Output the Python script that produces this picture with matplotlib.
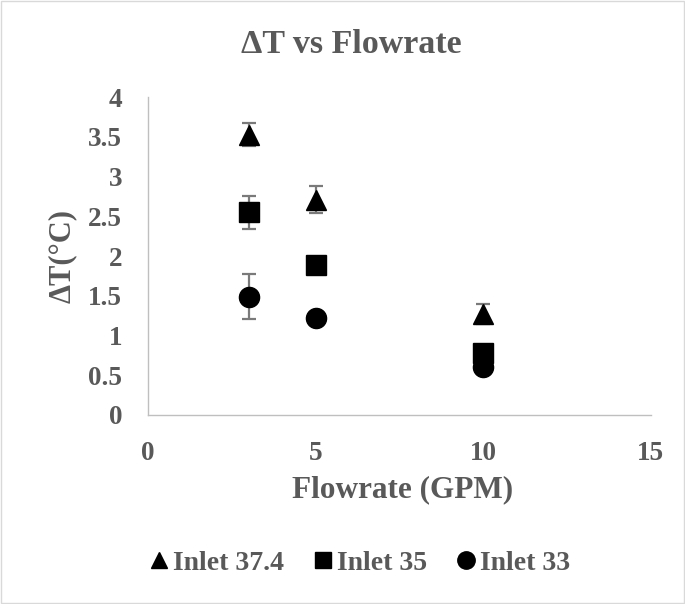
import matplotlib
matplotlib.use("Agg")
import matplotlib.pyplot as plt
from matplotlib.lines import Line2D
from matplotlib.patches import Rectangle

# Flowrate (GPM) and temperature rise for each inlet temperature
flowrate = [3, 5, 10]
series_names = ["Inlet 37.4", "Inlet 35", "Inlet 33"]
dt_374 = [3.53, 2.71, 1.27]
dt_35 = [2.55, 1.89, 0.78]
dt_33 = [1.49, 1.22, 0.60]
err_374 = [0.15, 0.17, 0.13]
err_35 = [0.21, 0.03, 0.03]
err_33 = [0.28, 0.04, 0.03]

x_ticks = [0, 5, 10, 15]
y_ticks = [0, 0.5, 1, 1.5, 2, 2.5, 3, 3.5, 4]

plt.rcParams["font.family"] = ["Liberation Serif", "DejaVu Serif"]
plt.rcParams["font.weight"] = "bold"
text_gray = "#595959"

fig = plt.figure(figsize=(6.85, 6.04), dpi=100)
ax = fig.add_axes([0.216, 0.313, 0.734, 0.526])

markers = ["^", "s", "o"]
sizes = [14.5, 14, 14.5]
for vals, errs, m, ms, name in zip([dt_374, dt_35, dt_33],
                                   [err_374, err_35, err_33],
                                   markers, sizes, series_names):
    ax.errorbar(flowrate, vals, yerr=errs, fmt=m, color="black", ms=ms,
                ecolor="#7a7a7a", elinewidth=1.6, capsize=4.7, capthick=1.6,
                label=name, zorder=3)

ax.set_xlim(0, 15)
ax.set_ylim(0, 4)
ax.set_xticks(x_ticks)
ax.set_yticks(y_ticks)
ax.set_xticklabels([f"{v:g}" for v in x_ticks])
ax.set_yticklabels([f"{v:g}" for v in y_ticks])
ax.tick_params(length=0, labelsize=19.5, colors=text_gray)
ax.tick_params(axis="y", pad=18.5)
ax.tick_params(axis="x", pad=19)
for lab in ax.get_xticklabels() + ax.get_yticklabels():
    lab.set_fontweight("bold")

for s in ["top", "right"]:
    ax.spines[s].set_visible(False)
for s in ["left", "bottom"]:
    ax.spines[s].set_color("#bfbfbf")
    ax.spines[s].set_linewidth(1.0)

fig.text(351 / 685, 0.926, "ΔT vs Flowrate", ha="center", va="center",
         fontsize=24.5, fontweight="bold", color=text_gray)
fig.text(403 / 685, 1 - 490 / 604, "Flowrate (GPM)",
         ha="center", va="center", fontsize=22.5, fontweight="bold",
         color=text_gray)
fig.text(62 / 685, 1 - 256 / 604, "ΔT(°C)", ha="center", va="center",
         rotation=90, fontsize=22, fontweight="bold", color=text_gray)

legend_sizes = [11.5, 11, 12.5]
handles = [Line2D([], [], ls="none", marker=m, color="black", ms=s)
           for m, s in zip(markers, legend_sizes)]
leg = fig.legend(handles, series_names, loc="center",
                 bbox_to_anchor=(359 / 685, 1 - 563 / 604), ncol=3,
                 frameon=False, fontsize=20, handletextpad=0.1,
                 columnspacing=1.0, handlelength=0.8)
for t in leg.get_texts():
    t.set_color(text_gray)
    t.set_fontweight("bold")

fig.patches.append(Rectangle((0.001, 0.001), 0.997, 0.997,
                             transform=fig.transFigure, fill=False,
                             edgecolor="#d9d9d9", linewidth=1.0))

fig.savefig("out.png", dpi=100)
